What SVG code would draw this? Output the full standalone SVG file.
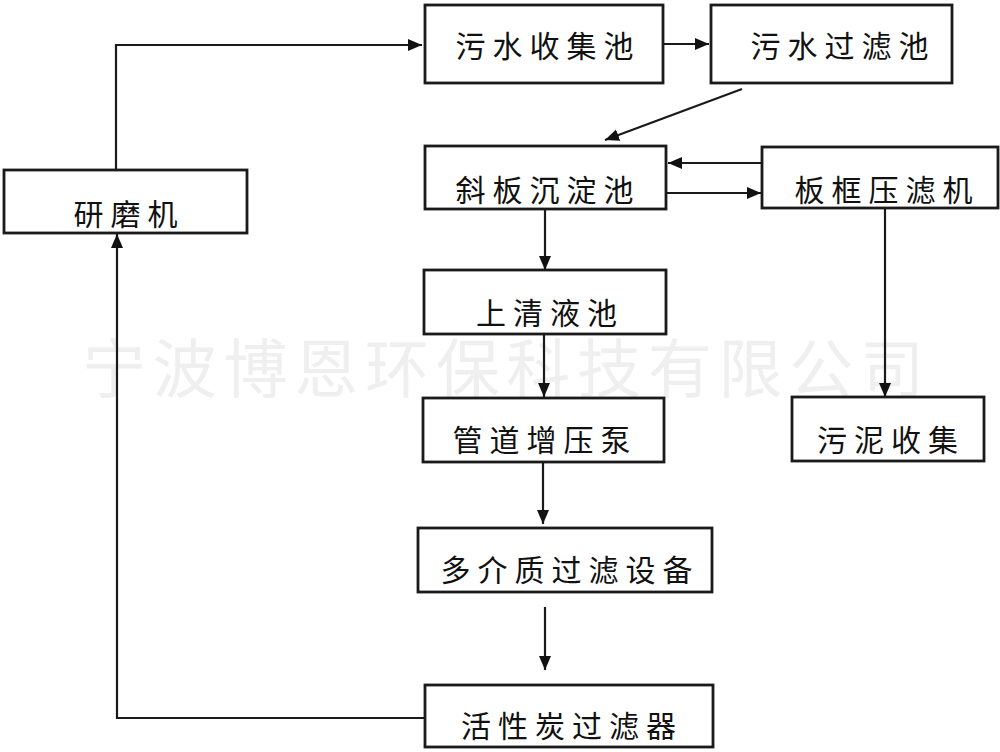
<svg xmlns="http://www.w3.org/2000/svg" width="1000" height="752" viewBox="0 0 1000 752">
  <style>
    .box { fill: #ffffff; stroke: #1a1a1a; stroke-width: 2.8; }
    .lbl { font-family: "Noto Sans CJK SC", "Noto Sans CJK JP", serif; font-size: 30px; fill: #111; text-anchor: middle; letter-spacing: 7px; }
    .wm { font-family: "Noto Sans CJK SC", sans-serif; font-size: 64px; fill: #efefef; }
    .conn { fill: none; stroke: #1a1a1a; stroke-width: 2.2; }
  </style>
  <defs>
    <marker id="arr" markerUnits="userSpaceOnUse" markerWidth="15" markerHeight="13" refX="14" refY="6" orient="auto">
      <path d="M0,0 L14,6 L0,12 z" fill="#111"/>
    </marker>
  </defs>
  <rect width="1000" height="752" fill="#ffffff"/>

  <g id="watermark">
    <text class="wm" x="82" y="392" textLength="842" lengthAdjust="spacing">宁波博恩环保科技有限公司</text>
  </g>

  <g id="connectors">
    <path class="conn" d="M116 170 V45 H422" marker-end="url(#arr)"/>
    <path class="conn" d="M663 44 H709" marker-end="url(#arr)"/>
    <path class="conn" d="M742 89 L605 140" marker-end="url(#arr)"/>
    <path class="conn" d="M762 163 H668" marker-end="url(#arr)"/>
    <path class="conn" d="M667 193 H761" marker-end="url(#arr)"/>
    <path class="conn" d="M545 209 V270" marker-end="url(#arr)"/>
    <path class="conn" d="M885 208 V397" marker-end="url(#arr)"/>
    <path class="conn" d="M544 334 V397" marker-end="url(#arr)"/>
    <path class="conn" d="M543 462 V524" marker-end="url(#arr)"/>
    <path class="conn" d="M545 607 V670" marker-end="url(#arr)"/>
    <path class="conn" d="M425 718 H117 V234" marker-end="url(#arr)"/>
  </g>

  <g id="n-yanmoji">
    <rect class="box" x="4" y="170" width="243" height="63"/>
    <text class="lbl" x="129" y="225">研磨机</text>
  </g>
  <g id="n-shouji">
    <rect class="box" x="425" y="5" width="238" height="78"/>
    <text class="lbl" x="548" y="57">污水收集池</text>
  </g>
  <g id="n-guolv">
    <rect class="box" x="711" y="5" width="241" height="78"/>
    <text class="lbl" x="843" y="57">污水过滤池</text>
  </g>
  <g id="n-xieban">
    <rect class="box" x="425" y="146" width="241" height="63"/>
    <text class="lbl" x="548" y="201">斜板沉淀池</text>
  </g>
  <g id="n-bankuang">
    <rect class="box" x="762" y="147" width="236" height="61"/>
    <text class="lbl" x="887" y="201">板框压滤机</text>
  </g>
  <g id="n-shangqing">
    <rect class="box" x="424" y="270" width="242" height="64"/>
    <text class="lbl" x="550" y="324">上清液池</text>
  </g>
  <g id="n-guandao">
    <rect class="box" x="423" y="398" width="241" height="64"/>
    <text class="lbl" x="545" y="451">管道增压泵</text>
  </g>
  <g id="n-wuni">
    <rect class="box" x="792" y="397" width="192" height="64"/>
    <text class="lbl" x="891" y="451">污泥收集</text>
  </g>
  <g id="n-duojiezhi">
    <rect class="box" x="418" y="528" width="294" height="64"/>
    <text class="lbl" x="570" y="581">多介质过滤设备</text>
  </g>
  <g id="n-huoxingtan">
    <rect class="box" x="425" y="685" width="288" height="62"/>
    <text class="lbl" x="572" y="737">活性炭过滤器</text>
  </g>
</svg>
